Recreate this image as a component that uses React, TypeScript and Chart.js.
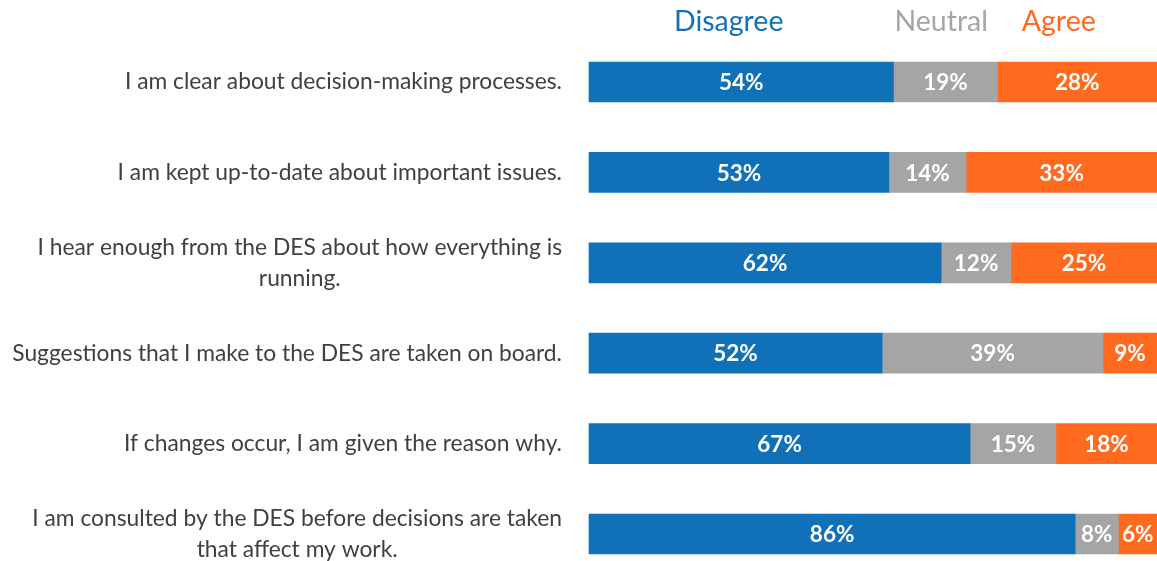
import React, { useEffect, useRef } from "react";
import { Chart, registerables } from "chart.js";

Chart.register(...registerables);

const categories: string[][] = [
  ["I am clear about decision-making processes."],
  ["I am kept up-to-date about important issues."],
  ["I hear enough from the DES about how everything is", "running."],
  ["Suggestions that I make to the DES are taken on board."],
  ["If changes occur, I am given the reason why."],
  ["I am consulted by the DES before decisions are taken", "that affect my work."],
];

const seriesNames = ["Disagree", "Neutral", "Agree"];
const seriesColors = ["#1071B8", "#A5A5A5", "#FF6A1F"];

const disagree = [53.6, 52.8, 62.0, 51.6, 67.1, 85.6];
const neutral = [18.3, 13.6, 12.3, 38.9, 15.1, 7.6];
const agree = [28.1, 33.6, 25.7, 9.5, 17.8, 6.8];

const disagreeLabels = ["54%", "53%", "62%", "52%", "67%", "86%"];
const neutralLabels = ["19%", "14%", "12%", "39%", "15%", "8%"];
const agreeLabels = ["28%", "33%", "25%", "9%", "18%", "6%"];

const FONT = "Lato, 'Open Sans', sans-serif";

const labelPlugin = {
  id: "customLabels",
  afterDatasetsDraw(chart: any) {
    const ctx = chart.ctx;
    const area = chart.chartArea;
    const yScale = chart.scales.y;
    const labelSets = [disagreeLabels, neutralLabels, agreeLabels];
    ctx.save();
    // bar value labels
    ctx.font = `bold 22.5px ${FONT}`;
    ctx.fillStyle = "#ffffff";
    ctx.textAlign = "center";
    ctx.textBaseline = "middle";
    chart.data.datasets.forEach((ds: any, di: number) => {
      const meta = chart.getDatasetMeta(di);
      meta.data.forEach((bar: any, i: number) => {
        const x = (bar.x + bar.base) / 2;
        ctx.fillText(labelSets[di][i], x, bar.y + 1);
      });
    });
    // category labels
    ctx.font = `22.8px ${FONT}`;
    ctx.fillStyle = "#404040";
    const rightEdge = 562;
    const lineH = 31;
    categories.forEach((lines, i) => {
      const y = yScale.getPixelForValue(i);
      const maxW = Math.max(...lines.map((l) => ctx.measureText(l).width));
      const cx = rightEdge - maxW / 2;
      const startY = y - ((lines.length - 1) * lineH) / 2;
      lines.forEach((l, li) => {
        ctx.fillText(l, cx, startY + li * lineH);
      });
    });
    // header legend
    ctx.font = `28.5px ${FONT}`;
    const fr = [0.246, 0.62, 0.827];
    seriesNames.forEach((n, i) => {
      ctx.fillStyle = seriesColors[i];
      ctx.fillText(n, area.left + fr[i] * (area.right - area.left), 22);
    });
    ctx.restore();
  },
};

export default function App() {
  const ref = useRef<HTMLCanvasElement>(null);
  useEffect(() => {
    document.body.style.margin = "0";
    const chart = new Chart(ref.current!, {
      type: "bar",
      data: {
        labels: categories.map((c) => c.join(" ")),
        datasets: [disagree, neutral, agree].map((d, i) => ({
          label: seriesNames[i],
          data: d,
          backgroundColor: seriesColors[i],
          borderWidth: 0,
          barThickness: 40,
          clip: false as any,
        })),
      },
      options: {
        indexAxis: "y",
        animation: false,
        responsive: false,
        maintainAspectRatio: false,
        layout: { padding: { left: 589, right: 0, top: 82, bottom: 27 } },
        plugins: { legend: { display: false }, tooltip: { enabled: false } },
        scales: {
          x: { stacked: true, min: 0, max: 100, display: false },
          y: { stacked: true, display: false, offset: false },
        },
      },
      plugins: [labelPlugin],
    });
    return () => chart.destroy();
  }, []);
  return (
    <div style={{ width: 1157, height: 561, background: "#fff" }}>
      <canvas ref={ref} width={1157} height={561} />
    </div>
  );
}
